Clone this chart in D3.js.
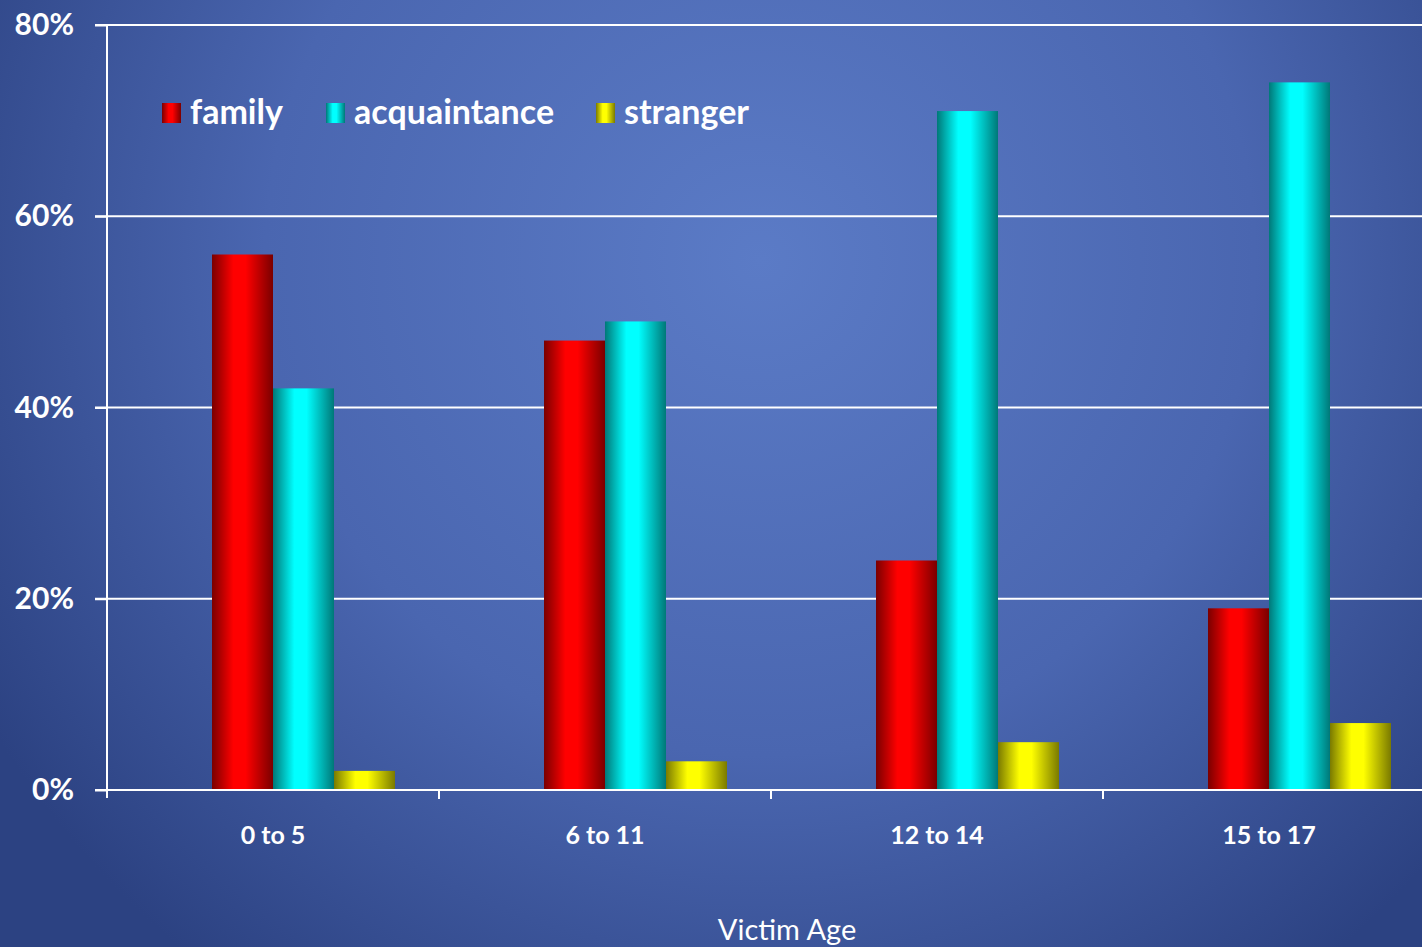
<!DOCTYPE html>
<html lang="en">
<head>
    <meta charset="UTF-8">
    <title>Victim Age by Relationship</title>
    <script src="https://d3js.org/d3.v7.min.js"></script>
    <style>
        body { margin: 0; overflow: hidden; }
        text { fill: #fff; font-family: Lato, "Open Sans", sans-serif; }
        .tick-label { font-weight: 700; }
    </style>
</head>
<body>
    <script>
        const width = 1422;
        const height = 947;

        const categories = ["0 to 5", "6 to 11", "12 to 14", "15 to 17"];
        const seriesNames = ["family", "acquaintance", "stranger"];
        const family = [56, 47, 24, 19];
        const acquaintance = [42, 49, 71, 74];
        const stranger = [2, 3, 5, 7];
        const yTicks = [0, 20, 40, 60, 80];

        const seriesValues = [family, acquaintance, stranger];
        const colors = [
            {dark: "#7a0000", light: "#ff0000"},
            {dark: "#007878", light: "#00ffff"},
            {dark: "#7a7a00", light: "#ffff00"}
        ];

        const svg = d3.select("body").append("svg")
            .attr("width", width)
            .attr("height", height);

        const defs = svg.append("defs");

        // background
        const bg = defs.append("radialGradient")
            .attr("id", "bg")
            .attr("gradientUnits", "userSpaceOnUse")
            .attr("cx", 760).attr("cy", 260).attr("r", 900);
        bg.append("stop").attr("offset", "0%").attr("stop-color", "#5b7bc6");
        bg.append("stop").attr("offset", "55%").attr("stop-color", "#4a66b0");
        bg.append("stop").attr("offset", "100%").attr("stop-color", "#2c4282");

        svg.append("rect")
            .attr("width", width).attr("height", height)
            .attr("fill", "url(#bg)");

        // cylinder-like shading for bars
        colors.forEach((c, i) => {
            const g = defs.append("linearGradient")
                .attr("id", "bar" + i)
                .attr("x1", "0%").attr("x2", "100%")
                .attr("y1", "0%").attr("y2", "0%");
            g.append("stop").attr("offset", "0%").attr("stop-color", c.dark);
            g.append("stop").attr("offset", "35%").attr("stop-color", c.light);
            g.append("stop").attr("offset", "55%").attr("stop-color", c.light);
            g.append("stop").attr("offset", "100%").attr("stop-color", c.dark);
        });

        const plotLeft = 107, plotBottom = 790, plotTop = 25, band = 332;

        const x = d3.scaleBand()
            .domain(categories)
            .range([plotLeft, plotLeft + band * categories.length]);

        const xSub = d3.scaleBand()
            .domain(seriesNames)
            .range([105, 288]);

        const y = d3.scaleLinear()
            .domain([0, 80])
            .range([plotBottom, plotTop]);

        // gridlines
        svg.append("g")
            .selectAll("line")
            .data(yTicks.filter(d => d > 0))
            .join("line")
            .attr("x1", plotLeft - 12)
            .attr("x2", width)
            .attr("y1", d => y(d))
            .attr("y2", d => y(d))
            .attr("stroke", "#fff")
            .attr("stroke-width", 2);

        // bars
        const groups = svg.append("g")
            .selectAll("g")
            .data(categories)
            .join("g")
            .attr("transform", d => `translate(${x(d)},0)`);

        groups.selectAll("rect")
            .data((d, ci) => seriesNames.map((s, si) => ({s, si, v: seriesValues[si][ci]})))
            .join("rect")
            .attr("x", d => xSub(d.s))
            .attr("width", xSub.bandwidth())
            .attr("y", d => y(d.v))
            .attr("height", d => plotBottom - y(d.v))
            .attr("fill", d => `url(#bar${d.si})`);

        // y axis
        const yAxis = svg.append("g")
            .attr("transform", `translate(${plotLeft},0)`)
            .call(d3.axisLeft(y)
                .tickValues(yTicks)
                .tickSize(12)
                .tickPadding(21)
                .tickFormat(d => d + "%"));
        yAxis.select(".domain").remove();
        yAxis.selectAll("line").attr("stroke", "#fff").attr("stroke-width", 2);
        yAxis.selectAll("text")
            .attr("class", "tick-label")
            .attr("fill", "#fff")
            .style("font-size", "30px");
        yAxis.append("line")
            .attr("x1", 0).attr("x2", 0)
            .attr("y1", plotTop).attr("y2", plotBottom + 8)
            .attr("stroke", "#fff").attr("stroke-width", 2);

        // x axis
        const xAxis = svg.append("g");
        xAxis.append("line")
            .attr("x1", plotLeft - 12).attr("x2", width)
            .attr("y1", plotBottom).attr("y2", plotBottom)
            .attr("stroke", "#fff").attr("stroke-width", 2);
        xAxis.selectAll(".xt")
            .data(categories.slice(1))
            .join("line")
            .attr("class", "xt")
            .attr("x1", d => x(d)).attr("x2", d => x(d))
            .attr("y1", plotBottom).attr("y2", plotBottom + 9)
            .attr("stroke", "#fff").attr("stroke-width", 2);
        xAxis.selectAll("text")
            .data(categories)
            .join("text")
            .attr("class", "tick-label")
            .attr("x", d => x(d) + x.bandwidth() / 2)
            .attr("y", 844)
            .attr("text-anchor", "middle")
            .style("font-size", "25px")
            .text(d => d);

        svg.append("text")
            .attr("x", 787)
            .attr("y", 940)
            .attr("text-anchor", "middle")
            .style("font-size", "29px")
            .text("Victim Age");

        // legend
        const legendX = [162, 326, 596];
        const legend = svg.append("g")
            .selectAll("g")
            .data(seriesNames)
            .join("g")
            .attr("transform", (d, i) => `translate(${legendX[i]},103)`);
        legend.append("rect")
            .attr("width", 19).attr("height", 20)
            .attr("fill", (d, i) => `url(#bar${i})`);
        legend.append("text")
            .attr("x", 28)
            .attr("y", 21)
            .style("font-size", "34px")
            .style("font-weight", 700)
            .text(d => d);
    </script>
</body>
</html>
